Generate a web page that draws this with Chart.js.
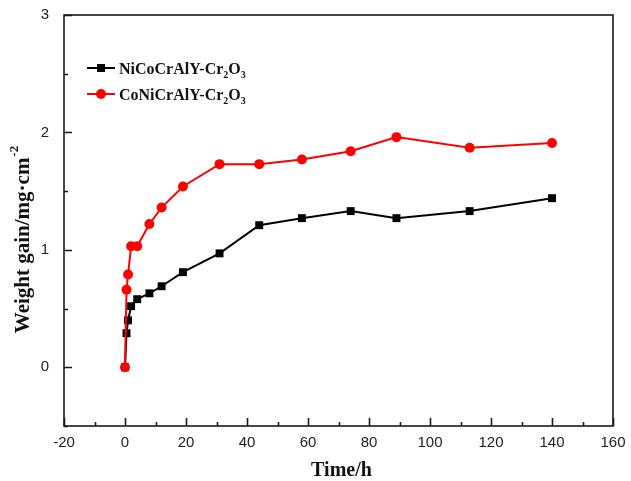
<!DOCTYPE html>
<html lang="en">
<head>
<meta charset="UTF-8" />
<title>Weight gain vs time</title>
<style>
  body { margin: 0; background: #ffffff; }
  #gainChart { display: block; }
</style>
<script src="https://cdn.jsdelivr.net/npm/chart.js"></script>
</head>
<body>
<canvas id="gainChart" width="631" height="481"></canvas>
<script>
// exposure time (h) and weight gain (mg/cm^2)
const hours = [0, 0.5, 1, 2, 4, 8, 12, 19, 31, 44, 58, 74, 89, 113, 140];
const niCoGain = [0, 0.29, 0.40, 0.52, 0.58, 0.63, 0.69, 0.81, 0.97, 1.21, 1.27, 1.33, 1.27, 1.33, 1.44];
const coNiGain = [0, 0.66, 0.79, 1.03, 1.03, 1.22, 1.36, 1.54, 1.73, 1.73, 1.77, 1.84, 1.96, 1.87, 1.91];
const seriesNames = ["NiCoCrAlY-Cr", "CoNiCrAlY-Cr"]; // followed by subscript 2, "O", subscript 3
const xTickValues = [-20, 0, 20, 40, 60, 80, 100, 120, 140, 160];
const yTickValues = [0, 1, 2, 3];

const toPoints = (ys) => hours.map((h, i) => ({ x: h, y: ys[i] }));

const serif = "'Liberation Serif', 'Times New Roman', serif";

// box frame, inward ticks, titles and the legend with sub/superscripts
const axisDecor = {
  id: "axisDecor",
  afterDatasetsDraw(chart) {
    const { ctx, chartArea: a, scales } = chart;
    const x = scales.x, y = scales.y;
    ctx.save();
    ctx.strokeStyle = "#1a1a1a";
    ctx.lineWidth = 1.6;
    ctx.strokeRect(a.left, a.top, a.right - a.left, a.bottom - a.top);

    ctx.beginPath();
    for (let v = -20; v <= 160; v += 10) {
      const px = Math.round(x.getPixelForValue(v)) + 0.5;
      const len = v % 20 === 0 ? 8 : 4;
      ctx.moveTo(px, a.bottom);
      ctx.lineTo(px, a.bottom - len);
    }
    for (let v = -0.5; v <= 3; v += 0.5) {
      const py = Math.round(y.getPixelForValue(v)) + 0.5;
      const len = Number.isInteger(v) ? 8 : 4;
      ctx.moveTo(a.left, py);
      ctx.lineTo(a.left + len, py);
    }
    ctx.stroke();

    ctx.fillStyle = "#111";
    // x title
    ctx.font = "bold 20px " + serif;
    ctx.textAlign = "center";
    ctx.textBaseline = "alphabetic";
    ctx.fillText("Time/h", (a.left + a.right) / 2 + 3, 476);

    // y title, rotated, with superscript -2
    ctx.save();
    ctx.translate(29, 240);
    ctx.rotate(-Math.PI / 2);
    ctx.font = "bold 21px " + serif;
    const main = "Weight gain/mg\u00b7cm";
    const wMain = ctx.measureText(main).width;
    ctx.font = "bold 13px " + serif;
    const sup = "-2";
    const wSup = ctx.measureText(sup).width;
    const start = -(wMain + wSup) / 2;
    ctx.textAlign = "left";
    ctx.font = "bold 21px " + serif;
    ctx.fillText(main, start, 0);
    ctx.font = "bold 13px " + serif;
    ctx.fillText(sup, start + wMain + 1, -11);
    ctx.restore();

    // legend
    const rows = [
      { y: 68, color: "#000000", style: "rect" },
      { y: 94, color: "#ff0000", style: "circle" }
    ];
    rows.forEach((r, i) => {
      ctx.strokeStyle = r.color;
      ctx.fillStyle = r.color;
      ctx.lineWidth = 2;
      ctx.beginPath();
      ctx.moveTo(87, r.y);
      ctx.lineTo(115, r.y);
      ctx.stroke();
      if (r.style === "rect") {
        ctx.fillRect(97, r.y - 4, 8, 8);
      } else {
        ctx.beginPath();
        ctx.arc(101, r.y, 5, 0, Math.PI * 2);
        ctx.fill();
      }
      ctx.fillStyle = "#111";
      ctx.textAlign = "left";
      let tx = 119;
      const base = r.y + 6;
      ctx.font = "bold 16px " + serif;
      ctx.fillText(seriesNames[i], tx, base);
      tx += ctx.measureText(seriesNames[i]).width;
      ctx.font = "bold 10px " + serif;
      ctx.fillText("2", tx, base + 4);
      tx += ctx.measureText("2").width;
      ctx.font = "bold 16px " + serif;
      ctx.fillText("O", tx, base);
      tx += ctx.measureText("O").width;
      ctx.font = "bold 10px " + serif;
      ctx.fillText("3", tx, base + 4);
    });
    ctx.restore();
  }
};

const ctx = document.getElementById("gainChart").getContext("2d");
const gainChart = new Chart(ctx, {
  type: "line",
  data: {
    datasets: [
      {
        label: "NiCoCrAlY-Cr2O3",
        data: toPoints(niCoGain),
        borderColor: "#000000",
        backgroundColor: "#000000",
        borderWidth: 2,
        pointStyle: "rect",
        pointRadius: 5.6,
        pointBorderWidth: 0,
        tension: 0,
        order: 2
      },
      {
        label: "CoNiCrAlY-Cr2O3",
        data: toPoints(coNiGain),
        borderColor: "#ff0000",
        backgroundColor: "#ff0000",
        borderWidth: 2,
        pointStyle: "circle",
        pointRadius: 5,
        pointBorderWidth: 0,
        tension: 0,
        order: 1
      }
    ]
  },
  options: {
    responsive: false,
    animation: false,
    layout: { padding: { top: 15, right: 18, left: 0, bottom: 0 } },
    plugins: {
      legend: { display: false },
      tooltip: { enabled: false }
    },
    scales: {
      x: {
        type: "linear",
        min: -20,
        max: 160,
        grid: { display: false },
        border: { display: false },
        afterBuildTicks: (s) => { s.ticks = xTickValues.map((v) => ({ value: v })); },
        afterFit: (s) => {
          s.height = 55;
          s.paddingLeft = 0;
          s.paddingRight = 0;
        },
        ticks: {
          color: "#222",
          padding: 0,
          maxRotation: 0,
          font: { family: "'Liberation Sans', Arial, sans-serif", size: 15 }
        }
      },
      y: {
        min: -0.5,
        max: 3,
        grid: { display: false },
        border: { display: false },
        afterBuildTicks: (s) => { s.ticks = yTickValues.map((v) => ({ value: v })); },
        afterFit: (s) => {
          s.width = 64;
          s.paddingTop = 0;
          s.paddingBottom = 0;
        },
        ticks: {
          color: "#222",
          padding: 7,
          font: { family: "'Liberation Sans', Arial, sans-serif", size: 15 }
        }
      }
    }
  },
  plugins: [axisDecor]
});
</script>
</body>
</html>
